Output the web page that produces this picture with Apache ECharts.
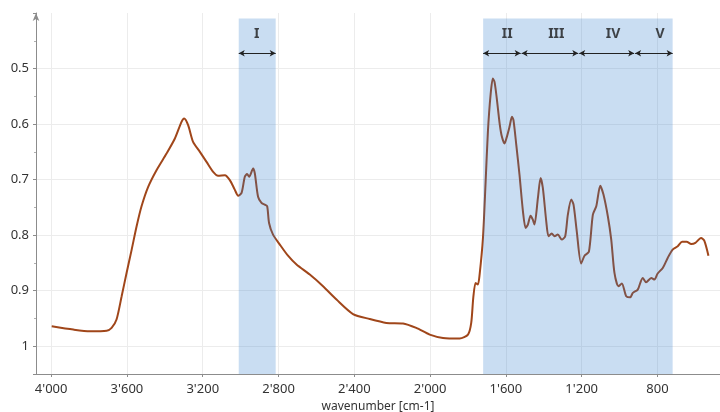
<!DOCTYPE html>
<html>
<head>
<meta charset="utf-8">
<script src="https://cdn.jsdelivr.net/npm/echarts@6/dist/echarts.min.js"></script>
<style>
html,body{margin:0;padding:0;background:#fff;}
#chart{width:720px;height:412px;}
</style>
</head>
<body>
<div id="chart"></div>
<script>
// ---- data ----
const wavenumber = [3997,3883,3795,3707,3681,3655,3628,3602,3575,3549,3523,3488,3444,3391,3347,3312,3298,3277,3251,3215,3180,3145,3119,3083,3057,3031,3013,2995,2978,2966,2955,2934,2925,2908,2890,2873,2860,2850,2829,2793,2750,2705,2635,2565,2494,2407,2319,2231,2143,2073,2002,1932,1844,1800,1783,1772,1760,1748,1739,1721,1707,1695,1681,1669,1660,1648,1633,1621,1607,1595,1581,1568,1560,1545,1528,1510,1496,1484,1470,1458,1449,1431,1417,1405,1387,1375,1358,1343,1326,1305,1287,1273,1255,1243,1226,1203,1185,1162,1141,1123,1102,1085,1062,1044,1027,1006,988,965,944,930,904,878,860,833,816,799,772,746,720,693,670,646,622,600,570,553,531];
const absorbance = [0.964,0.970,0.973,0.972,0.967,0.952,0.910,0.868,0.826,0.784,0.748,0.713,0.683,0.653,0.626,0.596,0.590,0.602,0.632,0.650,0.668,0.686,0.693,0.692,0.701,0.718,0.729,0.724,0.695,0.690,0.695,0.680,0.689,0.731,0.742,0.745,0.748,0.778,0.799,0.817,0.837,0.853,0.871,0.892,0.916,0.942,0.951,0.958,0.959,0.967,0.979,0.985,0.986,0.979,0.958,0.912,0.886,0.889,0.872,0.805,0.704,0.614,0.548,0.518,0.524,0.554,0.599,0.623,0.635,0.623,0.605,0.587,0.593,0.638,0.692,0.757,0.787,0.781,0.765,0.772,0.781,0.733,0.697,0.715,0.775,0.802,0.797,0.802,0.799,0.808,0.802,0.763,0.736,0.745,0.793,0.851,0.837,0.830,0.763,0.748,0.711,0.727,0.766,0.808,0.868,0.892,0.887,0.910,0.912,0.904,0.898,0.877,0.885,0.877,0.880,0.869,0.859,0.841,0.826,0.820,0.812,0.812,0.816,0.814,0.805,0.810,0.837];

const shadedBands = [[3010, 2815], [1720, 720]];
const regionNames = ['I', 'II', 'III', 'IV', 'V'];
const regionArrowFrom = [3010, 1720, 1517, 1213, 918];
const regionArrowTo = [2815, 1522, 1218, 923, 720];
const regionLabelAt = [2915, 1593, 1334, 1034, 786];
const arrowLevel = 0.4725;
const labelLevel = 0.4385;

const xTickValues = [4000, 3600, 3200, 2800, 2400, 2000, 1600, 1200, 800];
const xTickLabels = ["4'000", "3'600", "3'200", "2'800", "2'400", "2'000", "1'600", "1'200", "800"];
const yTickLabels = {'0.5': '0.5', '0.6': '0.6', '0.7': '0.7', '0.8': '0.8', '0.9': '0.9', '1': '1'};

// ---- build chart ----
const spectrum = wavenumber.map((w, i) => [w, absorbance[i]]);
const bandData = shadedBands.map(b => [{xAxis: b[0], yAxis: 0.41}, {xAxis: b[1], yAxis: 1.05}]);
const arrowData = regionNames.map((n, i) => [{coord: [regionArrowFrom[i], arrowLevel]}, {coord: [regionArrowTo[i], arrowLevel]}]);
const labelData = regionNames.map((n, i) => ({name: n, value: [regionLabelAt[i], labelLevel]}));

const FONT = 'Noto Sans';
const chart = echarts.init(document.getElementById('chart'), null, {renderer: 'canvas'});
chart.setOption({
  animation: false,
  backgroundColor: '#ffffff',
  grid: {left: 36, right: 0, top: 13, bottom: 38, containLabel: false, outerBoundsMode: 'none'},
  xAxis: {
    type: 'value',
    inverse: true,
    min: 470,
    max: 4080,
    name: 'wavenumber [cm-1]',
    nameLocation: 'middle',
    nameGap: 24,
    nameTextStyle: {color: '#333', fontSize: 12, fontFamily: FONT},
    axisLine: {show: true, lineStyle: {color: '#8c8c8c', width: 1}},
    axisTick: {show: true, length: 3, customValues: xTickValues, lineStyle: {color: '#8c8c8c'}},
    axisLabel: {
      customValues: xTickValues,
      color: '#333', fontSize: 13, fontFamily: FONT, margin: 9,
      formatter: v => xTickLabels[xTickValues.indexOf(v)] ?? ''
    },
    splitLine: {show: true, lineStyle: {color: '#ececec', width: 1}},
    minorTick: {show: false}
  },
  yAxis: {
    type: 'value',
    inverse: true,
    min: 0.4,
    max: 1.05,
    interval: 0.1,
    axisLine: {show: true, symbol: ['none', 'arrow'], symbolSize: [5, 8], lineStyle: {color: '#8c8c8c', width: 1}},
    axisTick: {show: true, length: 3, lineStyle: {color: '#8c8c8c'}},
    minorTick: {show: true, splitNumber: 2, length: 2, lineStyle: {color: '#b0b0b0'}},
    axisLabel: {
      color: '#333', fontSize: 13, fontFamily: FONT, margin: 7,
      showMinLabel: false, showMaxLabel: false,
      formatter: v => yTickLabels[String(+v.toFixed(2))] ?? ''
    },
    splitLine: {show: true, showMinLine: false, showMaxLine: false, lineStyle: {color: '#ececec', width: 1}}
  },
  series: [
    {
      type: 'line',
      data: spectrum,
      showSymbol: false,
      smooth: 0.25,
      z: 2,
      lineStyle: {color: '#a0461a', width: 2},
      silent: true
    },
    {
      type: 'line',
      data: [],
      z: 5,
      silent: true,
      markArea: {
        silent: true,
        z: 5,
        itemStyle: {color: 'rgba(40,120,205,0.25)'},
        data: bandData
      }
    },
    {
      type: 'line',
      data: [],
      z: 6,
      silent: true,
      markLine: {
        silent: true,
        z: 6,
        symbol: ['arrow', 'arrow'],
        symbolSize: [5, 6],
        label: {show: false},
        lineStyle: {color: '#222', width: 1, type: 'solid'},
        emphasis: {disabled: true},
        data: arrowData
      }
    },
    {
      type: 'scatter',
      data: labelData,
      symbolSize: 0,
      z: 7,
      silent: true,
      label: {
        show: true,
        position: 'inside',
        formatter: p => p.name,
        color: '#1a1a1a',
        fontSize: 14,
        fontWeight: 'bold',
        fontFamily: FONT
      }
    }
  ]
});
</script>
</body>
</html>
